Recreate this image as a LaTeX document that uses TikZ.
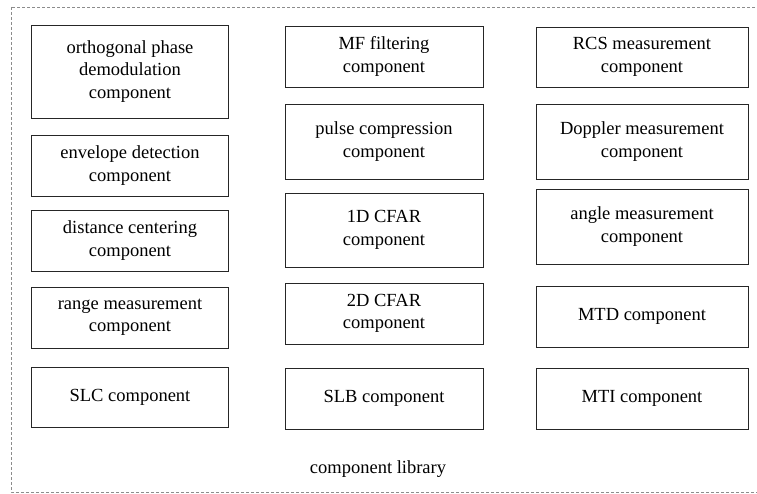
\documentclass[tikz,border=0pt]{standalone}
\usepackage{fontspec}
\setmainfont{Liberation Serif}
\newcommand*{\colA}{130}
\newcommand*{\colB}{384}
\newcommand*{\colC}{642}
\tikzset{
    compbox/.style={draw=black!85, line width=0.9pt, align=center, inner sep=2pt,
        font=\fontsize{18.5}{22.5}\selectfont},
    libframe/.style={draw=black!45, line width=0.7pt, dash pattern=on 3pt off 2pt}
}
\begin{document}
\begin{tikzpicture}[x=1pt,y=-1pt]
        \useasboundingbox (0,0) rectangle (757,494);
        \draw [libframe] (11,7) rectangle (758,492);
        \foreach \nm/\yc/\hh/\txt in {orth/71.5/93/{orthogonal phase\\demodulation\\component},
                env/165.5/61/{envelope detection\\component},
                dist/240.5/61/{distance centering\\component},
                range/317.5/61/{range measurement\\component},
                slc/397/60/{SLC component}} {
            \node [compbox, minimum width=197pt, minimum height=\hh pt] (\nm) at (\colA,\yc) {\txt};
        }
        \foreach \nm/\yc/\hh/\txt in {mf/56.5/61/{MF filtering\\component},
                pulse/141.5/75/{pulse compression\\component},
                cfarA/230/74/{1D CFAR\\component},
                cfarB/313.5/61/{2D CFAR\\component},
                slb/398.5/61/{SLB component}} {
            \node [compbox, minimum width=198pt, minimum height=\hh pt] (\nm) at (\colB,\yc) {\txt};
        }
        \foreach \nm/\yc/\hh/\txt in {rcs/57/60/{RCS measurement\\component},
                doppler/141.5/75/{Doppler measurement\\component},
                angle/226.5/75/{angle measurement\\component},
                mtd/316.5/61/{MTD component},
                mti/398.5/61/{MTI component}} {
            \node [compbox, minimum width=212pt, minimum height=\hh pt] (\nm) at (\colC,\yc) {\txt};
        }
        \node [font=\fontsize{18.5}{22}\selectfont] (liblabel) at (378,469) {component library};
    \end{tikzpicture}
\end{document}
